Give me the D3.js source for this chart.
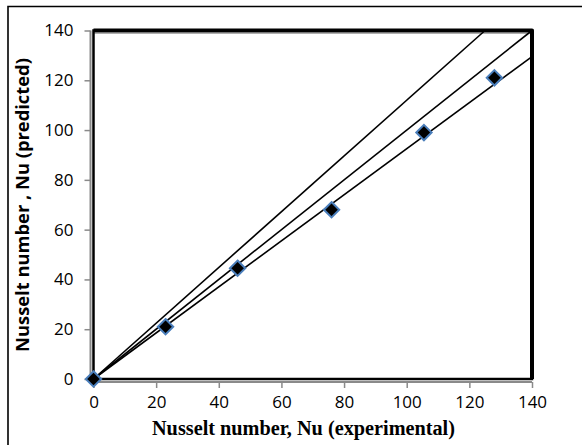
<!DOCTYPE html>
<html>
<head>
<meta charset="utf-8">
<script src="https://cdn.jsdelivr.net/npm/d3@7"></script>
<style>
  html, body { margin: 0; padding: 0; background: #fff; }
  svg { display: block; }
</style>
</head>
<body>
<svg id="chart" width="582" height="445"></svg>
<script>
// ---- data ----
const experimental = [0, 23, 46, 76, 105.5, 128];
const predicted    = [0, 21, 44.5, 68, 99, 121];
const xTicks = [0, 20, 40, 60, 80, 100, 120, 140];
const yTicks = [0, 20, 40, 60, 80, 100, 120, 140];
// reference lines through the origin: end points in data units
const lineUpper  = [[0, 0], [125, 140]];
const lineMiddle = [[0, 0], [140, 140]];
const lineLower  = [[0, 0], [140, 129.5]];
const xTitle = "Nusselt number, Nu (experimental)";
const yTitle = "Nusselt number , Nu (predicted)";

// ---- layout ----
const svg = d3.select("#chart");
const pLeft = 93.5, pRight = 532, pTop = 30.5, pBottom = 379;
const x = d3.scaleLinear().domain([0, 140]).range([pLeft, pRight]);
const y = d3.scaleLinear().domain([0, 140]).range([pBottom, pTop]);

// outer frame (cropped on right/bottom)
svg.append("path")
  .attr("d", `M8,445 L8,6.5 L582,6.5`)
  .attr("fill", "none").attr("stroke", "#000").attr("stroke-width", 1.6);

// gray axis lines just outside plot area
svg.append("line").attr("x1", pLeft - 3).attr("x2", pLeft - 3)
  .attr("y1", y(140)).attr("y2", y(0) + 3)
  .attr("stroke", "#8a8a8a").attr("stroke-width", 2);
svg.append("line").attr("x1", pLeft - 3).attr("x2", x(140))
  .attr("y1", pBottom + 3).attr("y2", pBottom + 3)
  .attr("stroke", "#8a8a8a").attr("stroke-width", 2);
svg.append("line").attr("x1", pLeft).attr("x2", x(140))
  .attr("y1", pTop + 2.8).attr("y2", pTop + 2.8)
  .attr("stroke", "#9a9a9a").attr("stroke-width", 1);

// axes (ticks)
const xAxis = d3.axisBottom(x).tickValues(xTicks).tickSize(6).tickPadding(8).tickFormat(d3.format("d"));
const gx = svg.append("g").attr("transform", `translate(0,${pBottom + 3})`).call(xAxis);
gx.select(".domain").remove();
gx.selectAll(".tick line").attr("stroke", "#8a8a8a").attr("stroke-width", 1.5);
gx.selectAll(".tick text")
  .attr("font-family", "Open Sans").attr("font-size", 17).attr("fill", "#000")
  .attr("dy", "0.71em");

const yAxis = d3.axisLeft(y).tickValues(yTicks).tickSize(6).tickPadding(11).tickFormat(d3.format("d"));
const gy = svg.append("g").attr("transform", `translate(${pLeft - 3},0)`).call(yAxis);
gy.select(".domain").remove();
gy.selectAll(".tick line").attr("stroke", "#8a8a8a").attr("stroke-width", 1.5);
gy.selectAll(".tick text")
  .attr("font-family", "Open Sans").attr("font-size", 17).attr("fill", "#000");

// plot area border
svg.append("rect")
  .attr("x", pLeft).attr("y", pTop)
  .attr("width", pRight - pLeft).attr("height", pBottom - pTop)
  .attr("fill", "none").attr("stroke", "#000").attr("stroke-width", 2.5);
svg.append("path")
  .attr("d", `M${pLeft},${pTop} L${pRight},${pTop} L${pRight},${pBottom}`)
  .attr("fill", "none").attr("stroke", "#000").attr("stroke-width", 4)
  .attr("stroke-linejoin", "round");

// reference lines
const lineGen = d3.line().x(d => x(d[0])).y(d => y(d[1]));
[lineUpper, lineMiddle, lineLower].forEach(l => {
  svg.append("path").attr("d", lineGen(l))
    .attr("fill", "none").attr("stroke", "#000").attr("stroke-width", 1.6);
});

// data points (diamonds)
const pts = experimental.map((v, i) => ({ x: v, y: predicted[i] }));
svg.append("g").selectAll("path").data(pts).join("path")
  .attr("d", d3.symbol().type(d3.symbolDiamond2).size(150))
  .attr("transform", d => `translate(${x(d.x)},${y(d.y)})`)
  .attr("fill", "#000").attr("stroke", "#4a7ebb").attr("stroke-width", 2);

// titles
function fitText(sel, target) {
  const w = sel.node().getComputedTextLength();
  const fs = parseFloat(sel.attr("font-size"));
  sel.attr("font-size", fs * target / w);
}
const xt = svg.append("text")
  .attr("x", 303.5).attr("y", 435)
  .attr("text-anchor", "middle")
  .attr("font-family", "Liberation Serif").attr("font-weight", "bold")
  .attr("font-size", 18).attr("fill", "#000")
  .text(xTitle);
fitText(xt, 303);

const yt = svg.append("text")
  .attr("transform", `translate(29,205) rotate(-90)`)
  .attr("text-anchor", "middle")
  .attr("font-family", "Open Sans").attr("font-weight", "bold")
  .attr("font-size", 16).attr("fill", "#000")
  .text(yTitle);
fitText(yt, 294);
</script>
</body>
</html>
